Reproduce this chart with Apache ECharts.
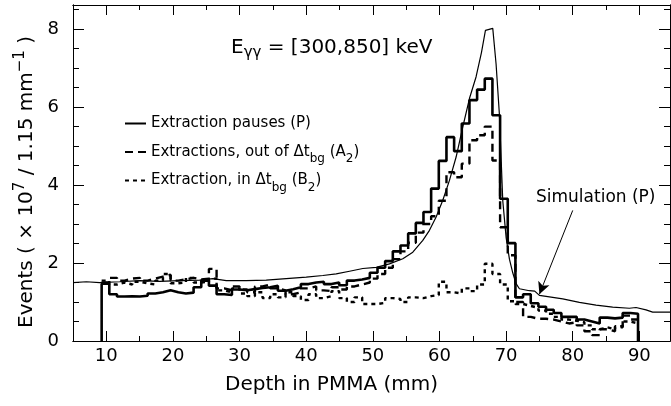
<!DOCTYPE html>
<html>
<head>
<meta charset="utf-8">
<script src="https://cdn.jsdelivr.net/npm/echarts@6/dist/echarts.min.js"></script>
<style>
html, body { margin: 0; padding: 0; background: #fff; }
#chart { width: 671px; height: 406px; }
</style>
</head>
<body>
<div id="chart"></div>
<script>
// histogram bins (1.15 mm wide), first edge
var binStart = 9.3;
var binWidth = 1.15;

// Extraction pauses (P)
var pausesP = [1.47, 1.20, 1.14, 1.15, 1.14, 1.16, 1.22, 1.25, 1.30, 1.25,
    1.22, 1.24, 1.38, 1.55, 1.42, 1.20, 1.18, 1.32, 1.30, 1.33,
    1.36, 1.38, 1.42, 1.29, 1.33, 1.38, 1.46, 1.50, 1.52, 1.46,
    1.50, 1.43, 1.55, 1.58, 1.62, 1.75, 1.88, 2.05, 2.30, 2.45,
    2.76, 3.03, 3.31, 3.91, 4.62, 5.23, 4.87, 5.58, 6.18, 6.45,
    6.73, 5.79, 3.65, 2.51, 1.12, 1.20, 0.97, 0.88, 0.80, 0.72,
    0.62, 0.62, 0.55, 0.50, 0.45, 0.60, 0.58, 0.60, 0.72, 0.70];
// Extractions, out of dt_bg (A2)
var outA2 = [1.50, 1.62, 1.55, 1.60, 1.62, 1.55, 1.60, 1.65, 1.70, 1.55,
    1.58, 1.62, 1.58, 1.60, 1.85, 1.35, 1.30, 1.40, 1.32, 1.25,
    1.40, 1.45, 1.35, 1.30, 1.20, 1.25, 1.35, 1.40, 1.30, 1.28,
    1.38, 1.32, 1.40, 1.45, 1.50, 1.60, 1.72, 1.88, 2.10, 2.30,
    2.52, 2.78, 3.00, 3.20, 3.60, 4.33, 4.20, 4.55, 5.15, 5.28,
    5.50, 4.63, 2.92, 2.20, 1.00, 0.62, 0.57, 0.57, 0.55, 0.50,
    0.45, 0.48, 0.40, 0.25, 0.15, 0.30, 0.25, 0.35, 0.65, 0.55];
// Extraction, in dt_bg (B2)
var inB2 = [1.55, 1.45, 1.50, 1.45, 1.52, 1.48, 1.45, 1.55, 1.72, 1.48,
    1.50, 1.62, 1.50, 1.52, 1.60, 1.30, 1.25, 1.35, 1.22, 1.15,
    1.25, 1.10, 1.20, 1.12, 1.25, 1.15, 1.05, 1.20, 1.10, 1.15,
    1.28, 1.10, 1.00, 1.12, 0.95, 0.95, 0.98, 1.10, 1.08, 1.00,
    1.12, 1.10, 1.15, 1.18, 1.52, 1.25, 1.22, 1.35, 1.28, 1.45,
    1.98, 1.72, 1.45, 1.02, 0.95, 0.90, 0.85, 0.78, 0.70, 0.62,
    0.55, 0.52, 0.48, 0.40, 0.30, 0.35, 0.30, 0.38, 0.50, 0.45];

// Simulation (P)
var simDepth = [5, 7, 9, 12, 15, 18, 21, 24, 26, 28,
    31, 34, 37, 40, 42.5, 44.5, 46.5, 48.5, 50.5, 52.5,
    54.5, 56, 57.5, 58.5, 59.5, 60.5, 61.5, 62.5, 63.5, 64.5,
    65.5, 66.3, 66.9, 68.0, 68.5, 69.0, 69.5, 70.0, 70.5, 71.0,
    71.5, 72.0, 73.5, 74.3, 75.0, 78.5, 81, 83.5, 86, 88.5,
    89.5, 91, 92, 94.6];
var simEvents = [1.50, 1.52, 1.50, 1.52, 1.55, 1.53, 1.55, 1.56, 1.60, 1.55,
    1.55, 1.56, 1.60, 1.64, 1.68, 1.72, 1.79, 1.86, 1.89, 1.98,
    2.11, 2.28, 2.58, 2.84, 3.18, 3.61, 4.12, 4.72, 5.49, 6.22,
    6.78, 7.40, 7.97, 8.02, 7.10, 5.80, 3.60, 2.66, 2.10, 1.75,
    1.47, 1.34, 1.29, 1.28, 1.17, 1.08, 0.99, 0.92, 0.87, 0.84,
    0.86, 0.80, 0.74, 0.74];

// ticks
var xMajor = [10, 20, 30, 40, 50, 60, 70, 80, 90];
var xMinor = [15, 25, 35, 45, 55, 65, 75, 85];
var yMajor = [0, 2, 4, 6, 8];
var yMinor = [0.5, 1, 1.5, 2.5, 3, 3.5, 4.5, 5, 5.5, 6.5, 7, 7.5, 8.5];

var nameP = 'Extraction pauses (P)';
var nameA = 'Extractions, out of Δtbg (A2)';
var nameB = 'Extraction, in Δtbg (B2)';
var legendText = {};
legendText[nameP] = '{t|Extraction pauses (P)}{s| }';
legendText[nameA] = '{t|Extractions, out of Δt}{s|bg}{t| (A}{s|2}{t|)}';
legendText[nameB] = '{t|Extraction, in Δt}{s|bg}{t| (B}{s|2}{t|)}';

var FONT = 'DejaVu Sans';

function histo(vals, closed) {
    var pts = [];
    if (closed) pts.push([binStart, 0]);
    for (var i = 0; i < vals.length; i++) {
        pts.push([+(binStart + i * binWidth).toFixed(3), vals[i]]);
    }
    var end = +(binStart + vals.length * binWidth).toFixed(3);
    pts.push([end, closed ? 0 : vals[vals.length - 1]]);
    return pts;
}

var simData = simDepth.map(function (d, i) { return [d, simEvents[i]]; });

function xAxis(pos, ticks, len, main) {
    var ax = {
        type: 'value', position: pos, min: 5, max: 94.6,
        axisLine: { show: true, onZero: false, lineStyle: { color: '#000', width: 1 } },
        axisTick: { show: true, inside: true, length: len, customValues: ticks, lineStyle: { color: '#000', width: 1 } },
        axisLabel: { show: main, customValues: ticks, margin: 6, color: '#000', fontFamily: FONT, fontSize: 18 },
        splitLine: { show: false }
    };
    if (main) {
        ax.name = 'Depth in PMMA (mm)';
        ax.nameLocation = 'middle';
        ax.nameGap = 34;
        ax.nameTextStyle = { color: '#000', fontFamily: FONT, fontSize: 20, padding: [0, 80, 0, 0] };
    }
    return ax;
}

function yAxis(pos, ticks, len, main) {
    var ax = {
        type: 'value', position: pos, min: 0, max: 8.62,
        axisLine: { show: true, onZero: false, lineStyle: { color: '#000', width: 1 } },
        axisTick: { show: true, inside: true, length: len, customValues: ticks, lineStyle: { color: '#000', width: 1 } },
        axisLabel: { show: main, customValues: ticks, margin: 14, color: '#000', fontFamily: FONT, fontSize: 18 },
        splitLine: { show: false }
    };
    if (main) {
        ax.name = '{t|Events ( × 10}{p|7}{t| / 1.15 mm}{p|−1}{t| )}';
        ax.nameLocation = 'middle';
        ax.nameGap = 31;
        ax.nameTextStyle = {
            color: '#000', fontFamily: FONT, fontSize: 20,
            padding: [0, 18, 0, 0],
            rich: {
                t: { fontFamily: FONT, fontSize: 20, lineHeight: 28, color: '#000' },
                p: { fontFamily: FONT, fontSize: 15, lineHeight: 14, verticalAlign: 'top', color: '#000' }
            }
        };
    }
    return ax;
}

var myChart = echarts.init(document.getElementById('chart'));

var option = {
    backgroundColor: '#fff',
    animation: false,
    grid: { left: 73, right: 1, top: 5, bottom: 65, containLabel: false },
    title: {
        text: '{e|E}{s|γγ}{e| = [300,850] keV}',
        left: 226, top: 30,
        textStyle: {
            fontWeight: 'normal',
            rich: {
                e: { fontFamily: FONT, fontSize: 20, fontWeight: 'normal', lineHeight: 26, color: '#000' },
                s: { fontFamily: FONT, fontSize: 15, fontWeight: 'normal', lineHeight: 14, verticalAlign: 'bottom', color: '#000' }
            }
        }
    },
    legend: {
        data: [nameP, nameA, nameB],
        orient: 'vertical',
        left: 119, top: 111,
        itemWidth: 21, itemHeight: 12, itemGap: 8,
        itemStyle: { opacity: 0 },
        formatter: function (n) { return legendText[n]; },
        textStyle: {
            color: '#000', fontFamily: FONT, fontSize: 15,
            rich: {
                t: { fontFamily: FONT, fontSize: 15, lineHeight: 26, color: '#000' },
                s: { fontFamily: FONT, fontSize: 12, lineHeight: 13, verticalAlign: 'bottom', color: '#000' }
            }
        }
    },
    xAxis: [
        xAxis('bottom', xMajor, 10, true),
        xAxis('bottom', xMinor, 5, false),
        xAxis('top', xMajor, 10, false),
        xAxis('top', xMinor, 5, false)
    ],
    yAxis: [
        yAxis('left', yMajor, 11, true),
        yAxis('left', yMinor, 6, false),
        yAxis('right', yMajor, 11, false),
        yAxis('right', yMinor, 6, false)
    ],
    graphic: [{
        type: 'text', left: 536, top: 189,
        style: { text: 'Simulation (P)', fill: '#000', font: '17px "DejaVu Sans"' }
    }],
    series: [
        {
            name: 'Simulation (P)', type: 'line', data: simData,
            showSymbol: false, symbol: 'none', color: '#000',
            lineStyle: { color: '#000', width: 1.2 },
            markLine: {
                silent: true, symbol: ['none', 'arrow'], symbolSize: [9, 12],
                label: { show: false },
                lineStyle: { color: '#000', width: 1, type: 'solid' },
                data: [[{ coord: [80.0, 3.35] }, { coord: [75.0, 1.2] }]]
            }
        },
        {
            name: nameP, type: 'line', step: 'end', data: histo(pausesP, true),
            symbol: 'none', symbolSize: 0, color: '#000',
            lineStyle: { color: '#000', width: 2.6 }
        },
        {
            name: nameA, type: 'line', step: 'end', data: histo(outA2, false),
            symbol: 'none', symbolSize: 0, color: '#000',
            lineStyle: { color: '#000', width: 2.4, type: [8, 5] }
        },
        {
            name: nameB, type: 'line', step: 'end', data: histo(inB2, false),
            symbol: 'none', symbolSize: 0, color: '#000',
            lineStyle: { color: '#000', width: 2.4, type: [4, 4] }
        }
    ]
};

myChart.setOption(option);
</script>
</body>
</html>
